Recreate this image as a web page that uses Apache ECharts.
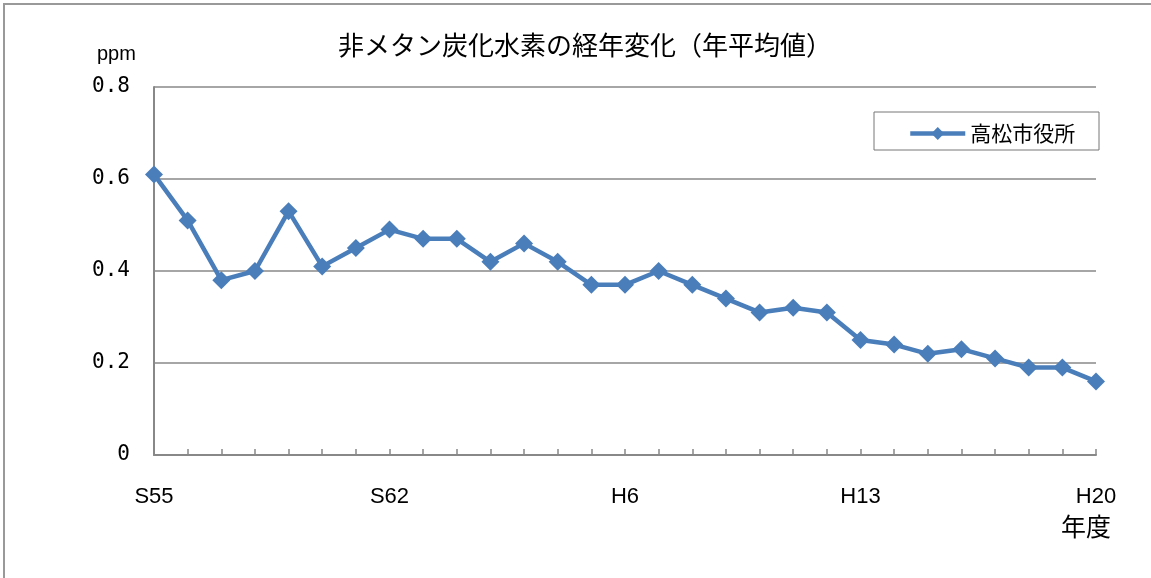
<!DOCTYPE html>
<html><head><meta charset="utf-8">
<script src="https://cdn.jsdelivr.net/npm/echarts@6/dist/echarts.min.js"></script>
<style>html,body{margin:0;padding:0;background:#fff}#c{width:1151px;height:578px}</style>
</head><body><div id="c"></div>
<script>
var categories = ['S55','S56','S57','S58','S59','S60','S61','S62','S63','H1','H2','H3','H4','H5','H6','H7','H8','H9','H10','H11','H12','H13','H14','H15','H16','H17','H18','H19','H20'];
var values = [0.61,0.51,0.38,0.40,0.53,0.41,0.45,0.49,0.47,0.47,0.42,0.46,0.42,0.37,0.37,0.40,0.37,0.34,0.31,0.32,0.31,0.25,0.24,0.22,0.23,0.21,0.19,0.19,0.16];
var yTicks = [0, 0.2, 0.4, 0.6, 0.8];
var seriesName = '高松市役所';
var titleText = '非メタン炭化水素の経年変化（年平均値）';

var chart = echarts.init(document.getElementById('c'));
var font = '"Noto Sans CJK JP", "Liberation Sans", sans-serif';
chart.setOption({
  animation: false,
  textStyle: {fontFamily: font},
  title: {text: titleText, left: 580, top: 27, textAlign: 'center',
    textStyle: {fontSize: 26, fontWeight: 'normal', color: '#000', fontFamily: font}},
  graphic: [
    {type: 'polyline', shape: {points: [[4, 600], [4, 4], [1160, 4]]}, style: {stroke: '#999', lineWidth: 2, fill: null}},
    {type: 'rect', shape: {x: 874, y: 112, width: 225, height: 38}, style: {stroke: '#777', lineWidth: 1, fill: '#fff'}, z: 0},
    {type: 'text', left: 97, top: 44, style: {text: 'ppm', font: '20px "Liberation Sans", sans-serif', fill: '#000'}},
    {type: 'text', left: 1061, top: 514, style: {text: '年度', font: '25px "Noto Sans CJK JP"', fill: '#000'}}
  ],
  legend: {data: [seriesName], left: 908, top: 123, padding: 0, itemWidth: 55, itemHeight: 16,
    lineStyle: {width: 4.5}, itemStyle: {color: '#4a7ebb'},
    textStyle: {fontSize: 21, color: '#000', fontFamily: font}, itemGap: 4},
  grid: {left: 154, right: 55, top: 87, bottom: 123},
  xAxis: {type: 'category', data: categories, boundaryGap: false,
    axisLine: {lineStyle: {color: '#888', width: 2}},
    axisTick: {inside: true, length: 6, interval: 0, lineStyle: {color: '#888', width: 1.5}},
    axisLabel: {interval: 6, margin: 31, fontSize: 22, color: '#000', fontFamily: '"Liberation Sans", sans-serif'},
    splitLine: {show: false}},
  yAxis: {type: 'value', min: 0, max: 0.8, interval: 0.2,
    axisLine: {show: true, lineStyle: {color: '#888', width: 2}},
    axisTick: {show: false},
    axisLabel: {margin: 24, fontSize: 21, color: '#000', fontFamily: '"DejaVu Sans Mono", monospace',
      formatter: function (v) { var i = yTicks.indexOf(Math.round(v * 10) / 10); return i >= 0 ? (v === 0 ? '0' : v.toFixed(1)) : ''; }},
    splitLine: {lineStyle: {color: '#888', width: 1.6}}},
  series: [{name: seriesName, type: 'line', data: values, symbol: 'diamond', symbolSize: 18,
    lineStyle: {color: '#4a7ebb', width: 4.5}, itemStyle: {color: '#4a7ebb'}}]
});
</script></body></html>
